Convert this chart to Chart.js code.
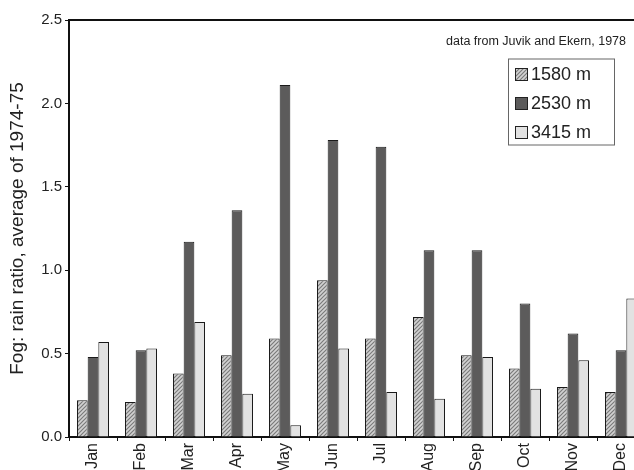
<!DOCTYPE html>
<html>
<head>
<meta charset="utf-8">
<script src="https://cdn.jsdelivr.net/npm/chart.js@4/dist/chart.umd.min.js"></script>
<style>
  html, body { margin: 0; padding: 0; background: #fff; overflow: hidden; }
  #wrap { width: 634px; height: 470px; overflow: hidden; position: relative; }
</style>
</head>
<body>
<div id="wrap"><canvas id="c" width="660" height="470"></canvas></div>
<script>
// values (Juvik and Ekern, 1978)
var months = ['Jan','Feb','Mar','Apr','May','Jun','Jul','Aug','Sep','Oct','Nov','Dec'];
var fog1580 = [0.22, 0.21, 0.38, 0.49, 0.59, 0.94, 0.59, 0.72, 0.49, 0.41, 0.30, 0.27];
var fog2530 = [0.48, 0.52, 1.17, 1.36, 2.11, 1.78, 1.74, 1.12, 1.12, 0.80, 0.62, 0.52];
var fog3415 = [0.57, 0.53, 0.69, 0.26, 0.07, 0.53, 0.27, 0.23, 0.48, 0.29, 0.46, 0.83];
var seriesNames = ['1580 m', '2530 m', '3415 m'];
var yMin = 0, yMax = 2.5, yStep = 0.5;
var sourceNote = 'data from Juvik and Ekern, 1978';

var FONT = '"Liberation Sans", Arial, sans-serif';

function hatchPattern() {
  var p = document.createElement('canvas');
  p.width = 4; p.height = 4;
  var g = p.getContext('2d');
  g.fillStyle = '#d2d2d2';
  g.fillRect(0, 0, 4, 4);
  g.strokeStyle = '#7a7a7a';
  g.lineWidth = 1.2;
  g.beginPath();
  g.moveTo(-1, 5); g.lineTo(5, -1);
  g.moveTo(-1, 1); g.lineTo(1, -1);
  g.moveTo(3, 5); g.lineTo(5, 3);
  g.stroke();
  return document.getElementById('c').getContext('2d').createPattern(p, 'repeat');
}

var colors = [hatchPattern(), '#5c5b5b', '#e2e2e2'];

// top frame line + note + boxed legend
var extras = {
  id: 'extras',
  afterDraw: function(chart) {
    var ctx = chart.ctx, a = chart.chartArea;
    ctx.save();
    ctx.strokeStyle = '#111';
    ctx.lineWidth = 2;
    ctx.beginPath();
    ctx.moveTo(a.left, a.top);
    ctx.lineTo(a.right, a.top);
    ctx.stroke();

    ctx.fillStyle = '#222';
    ctx.font = '12.5px ' + FONT;
    ctx.textAlign = 'right';
    ctx.textBaseline = 'alphabetic';
    ctx.fillText(sourceNote, 626, 45);

    var bx = 508.5, by = 59, bw = 106, bh = 86;
    ctx.strokeStyle = '#666';
    ctx.lineWidth = 1;
    ctx.strokeRect(bx, by, bw, bh);
    ctx.font = '18px ' + FONT;
    ctx.textAlign = 'left';
    ctx.textBaseline = 'middle';
    chart.data.datasets.forEach(function(ds, i) {
      var cy = 74 + i * 29;
      ctx.fillStyle = ds.backgroundColor;
      ctx.fillRect(515, cy - 6, 13, 13);
      ctx.strokeStyle = '#222';
      ctx.strokeRect(515.5, cy - 5.5, 12, 12);
      ctx.fillStyle = '#222';
      ctx.fillText(ds.label, 531, cy + 1);
    });
    ctx.restore();
  }
};

new Chart(document.getElementById('c'), {
  type: 'bar',
  data: {
    labels: months,
    datasets: [
      { label: seriesNames[0], data: fog1580, backgroundColor: colors[0] },
      { label: seriesNames[1], data: fog2530, backgroundColor: colors[1] },
      { label: seriesNames[2], data: fog3415, backgroundColor: colors[2] }
    ]
  },
  options: {
    responsive: false,
    animation: false,
    layout: { padding: { top: 20, right: 15, left: 0, bottom: 0 } },
    datasets: {
      bar: {
        borderColor: '#1a1a1a',
        borderWidth: 1,
        categoryPercentage: 0.667,
        barPercentage: 1.0
      }
    },
    plugins: {
      legend: { display: false },
      tooltip: { enabled: false }
    },
    scales: {
      x: {
        grid: { display: true, drawOnChartArea: false, offset: true, tickLength: 4, color: '#111' },
        border: { display: true, color: '#111', width: 2 },
        ticks: {
          color: '#222',
          font: { family: FONT, size: 16 },
          minRotation: 90, maxRotation: 90,
          padding: 2
        },
        afterFit: function(s) { s.height = 33; }
      },
      y: {
        min: yMin, max: yMax,
        grid: { display: true, drawOnChartArea: false, tickLength: 4, color: '#111' },
        border: { display: true, color: '#111', width: 2 },
        ticks: {
          stepSize: yStep,
          color: '#222',
          font: { family: FONT, size: 15 },
          padding: 3,
          callback: function(v) { return v.toFixed(1); }
        },
        title: {
          display: true,
          text: 'Fog: rain ratio, average of 1974-75',
          color: '#222',
          font: { family: FONT, size: 19 },
          padding: { top: 6, bottom: 0 }
        },
        afterFit: function(s) { s.width = 69; }
      }
    }
  },
  plugins: [extras]
});
</script>
</body>
</html>
